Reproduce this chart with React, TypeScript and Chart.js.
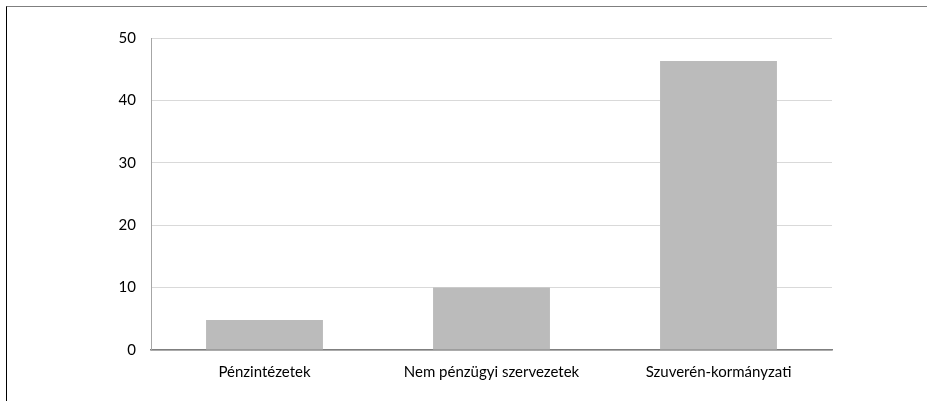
import React, { useEffect, useRef } from "react";
import { Chart, registerables } from "chart.js";

Chart.register(...registerables);

const categories = ["Pénzintézetek", "Nem pénzügyi szervezetek", "Szuverén-kormányzati"];
const values = [4.8, 10, 46.3];
const yTicks = [0, 10, 20, 30, 40, 50];

export default function App() {
  const ref = useRef<HTMLCanvasElement>(null);
  useEffect(() => {
    if (!ref.current) return;
    const chart = new Chart(ref.current, {
      type: "bar",
      data: {
        labels: categories,
        datasets: [
          {
            data: values,
            backgroundColor: "#bbbbbb",
            borderWidth: 0,
            barPercentage: 0.515,
            categoryPercentage: 1,
          },
        ],
      },
      options: {
        animation: false,
        responsive: false,
        maintainAspectRatio: false,
        layout: { padding: { left: 0, right: 95, top: 38, bottom: 0 } },
        plugins: { legend: { display: false }, tooltip: { enabled: false } },
        scales: {
          x: {
            grid: { display: false, drawTicks: false },
            border: { display: true, color: "#7f7f7f", width: 1.5 },
            ticks: {
              color: "#000000",
              padding: 13,
              font: { family: "Lato", size: 15 },
            },
            afterFit: (s: any) => {
              s.height = 51;
            },
          },
          y: {
            min: 0,
            max: 50,
            afterBuildTicks: (s: any) => {
              s.ticks = yTicks.map((v) => ({ value: v }));
            },
            grid: { color: "#d9d9d9", lineWidth: 1, drawTicks: false },
            border: { display: true, color: "#a6a6a6", width: 1 },
            ticks: {
              color: "#000000",
              padding: 15,
              font: { family: "Lato", size: 15 },
            },
            afterFit: (s: any) => {
              s.width = 151;
            },
          },
        },
      },
    });
    return () => chart.destroy();
  }, []);
  return (
    <div style={{ position: "absolute", left: 0, top: 0, width: 927, height: 401, background: "#fff" }}>
      <div
        style={{
          position: "absolute",
          left: 6,
          top: 6,
          right: 0,
          bottom: 0,
          borderTop: "1.5px solid #7f7f7f",
          borderLeft: "1px solid #000",
        }}
      />
      <canvas ref={ref} width={927} height={401} style={{ position: "absolute", left: 0, top: 0 }} />
    </div>
  );
}
